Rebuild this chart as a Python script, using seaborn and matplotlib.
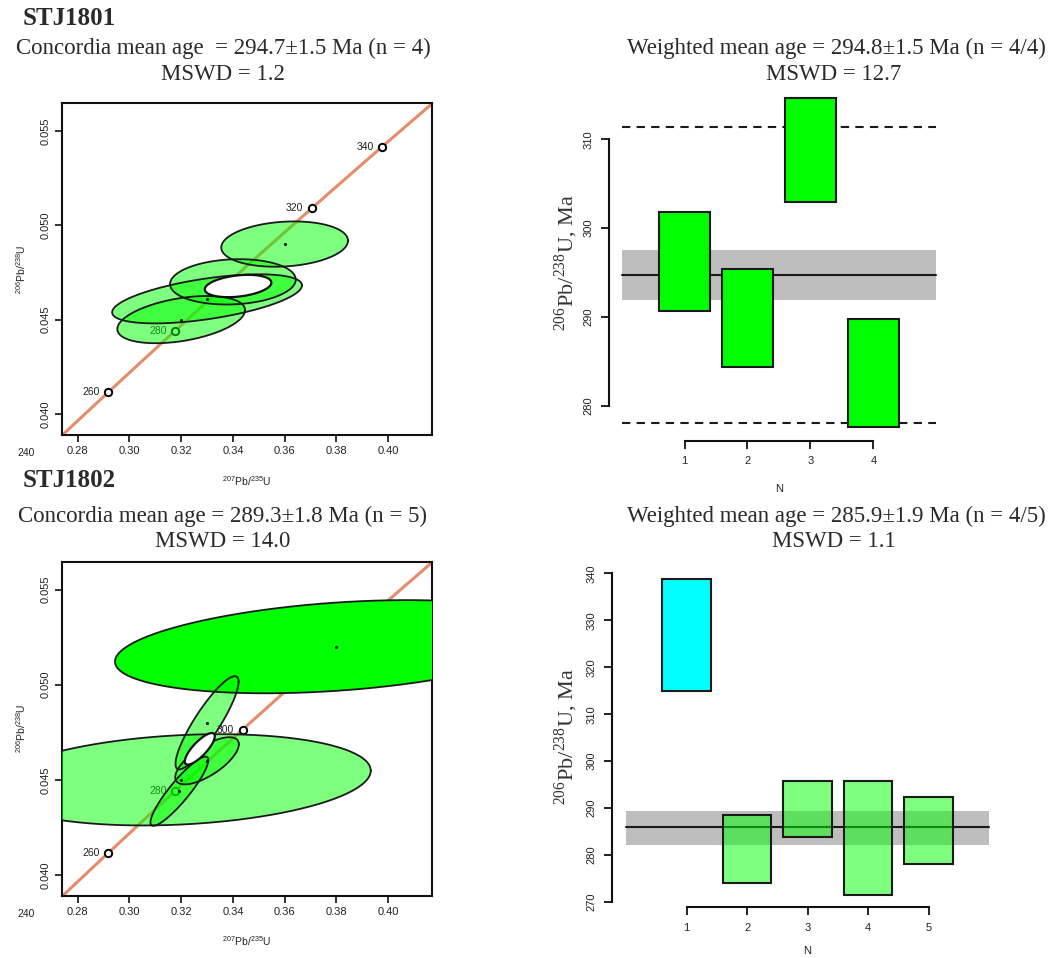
import numpy as np
import pandas as pd
import matplotlib
matplotlib.use("Agg")
import matplotlib.pyplot as plt
import seaborn as sns

sns.set_style("ticks")
plt.rcParams['font.family'] = ['Liberation Sans', 'DejaVu Sans']
plt.rcParams['mathtext.fontset'] = 'custom'
plt.rcParams['mathtext.rm'] = 'Liberation Serif'
plt.rcParams['mathtext.sf'] = 'Liberation Sans'
plt.rcParams['mathtext.it'] = 'Liberation Sans'

# ---------------- data ----------------
L238 = 1.55125e-4   # decay constants, 1/Ma
L235 = 9.8485e-4
conc_ages = [240, 260, 280, 300, 320, 340]
s1_shown_ages = [240, 260, 280, 320, 340]
s2_shown_ages = [240, 260, 280, 300]

# STJ1801 concordia error ellipses (x=207Pb/235U, y=206Pb/238U)
s1_cx = [0.360, 0.340, 0.330, 0.320]
s1_cy = [0.0490, 0.0470, 0.0461, 0.0450]
s1_sx = [0.0245, 0.0243, 0.0367, 0.0247]
s1_sy = [0.00120, 0.00120, 0.00130, 0.00125]
s1_rho = [0.15, 0.10, 0.55, 0.40]
s1_mean = [0.3420, 0.04678, 0.01287, 0.00059, 0.30]

# STJ1802 concordia error ellipses
s2_cx = [0.320, 0.380, 0.330, 0.330, 0.3193]
s2_cy = [0.0450, 0.0520, 0.0480, 0.0460, 0.0444]
s2_sx = [0.0733, 0.0856, 0.0122, 0.0123, 0.0112]
s2_sy = [0.00240, 0.00245, 0.00245, 0.00124, 0.00182]
s2_rho = [0.20, 0.32, 0.88, 0.70, 0.90]
s2_alpha = [0.5, 1.0, 0.5, 0.5, 0.5]
s2_mean = [0.3272, 0.04663, 0.0058, 0.00083, 0.80]

# weighted mean data (206Pb/238U ages, Ma): lower / upper limits
w1_n = [1, 2, 3, 4]
w1_lo = [290.7, 284.4, 302.9, 277.6]
w1_hi = [301.8, 295.4, 314.6, 289.75]
w1_mean, w1_band_lo, w1_band_hi = 294.7, 291.9, 297.6
w1_lim_lo, w1_lim_hi = 278.1, 311.4

w2_n = [1, 2, 3, 4, 5]
w2_lo = [314.9, 274.1, 283.9, 271.6, 278.2]
w2_hi = [338.7, 288.6, 295.8, 295.8, 292.3]
w2_reject = [True, False, False, False, False]
w2_mean, w2_band_lo, w2_band_hi = 285.9, 282.2, 289.4

W, H = 1053, 958
fig = plt.figure(figsize=(W / 100, H / 100), dpi=100)


def axrect(x0, y0, x1, y1):
    return [x0 / W, 1 - y1 / H, (x1 - x0) / W, (y1 - y0) / H]


def ellipse_xy(cx, cy, sx, sy, rho, n=200):
    t = np.linspace(0, 2 * np.pi, n)
    x = cx + sx * np.cos(t)
    y = cy + sy * (rho * np.cos(t) + np.sqrt(1 - rho ** 2) * np.sin(t))
    return x, y


SERIF = ['Liberation Serif', 'DejaVu Serif']
TXT = '#2a2a2a'


def concordia(ax, cx, cy, sx, sy, rho, alphas, mean, shown):
    ages = np.linspace(225, 380, 300)
    cdf = pd.DataFrame({'x': np.exp(L235 * ages) - 1, 'y': np.exp(L238 * ages) - 1})
    sns.lineplot(data=cdf, x='x', y='y', ax=ax, color='#e48c6c', lw=2.2,
                 sort=False, zorder=1)
    sa = np.array(shown)
    mdf = pd.DataFrame({'x': np.exp(L235 * sa) - 1, 'y': np.exp(L238 * sa) - 1})
    sns.scatterplot(data=mdf, x='x', y='y', ax=ax, s=28, marker='o',
                    facecolor='white', edgecolor='black', linewidth=1.4,
                    zorder=2, clip_on=True)
    for a, (xx, yy) in zip(shown, mdf.values):
        ax.annotate(str(a), (xx, yy), xytext=(-6, 0), textcoords='offset points',
                    ha='right', va='center', fontsize=7.5, color='#222222',
                    zorder=2, annotation_clip=False)
    for i in range(len(cx)):
        ex, ey = ellipse_xy(cx[i], cy[i], sx[i], sy[i], rho[i])
        ax.fill(ex, ey, facecolor='#00ff00', alpha=alphas[i], zorder=3, lw=0)
        ax.plot(ex, ey, color='#1a1a1a', lw=1.3, zorder=4)
        ax.plot([cx[i]], [cy[i]], marker='.', ms=2.5, color='#1a1a1a', zorder=4)
    ex, ey = ellipse_xy(*mean)
    ax.fill(ex, ey, facecolor='white', edgecolor='#111111', lw=1.6, zorder=5)
    ax.set_xlim(0.2738, 0.4171)
    ax.set_ylim(0.03889, 0.05647)
    ax.set_xticks([0.28, 0.30, 0.32, 0.34, 0.36, 0.38, 0.40])
    ax.set_xticklabels(['0.28', '0.30', '0.32', '0.34', '0.36', '0.38', '0.40'])
    ax.set_yticks([0.040, 0.045, 0.050, 0.055])
    ax.set_yticklabels(['0.040', '0.045', '0.050', '0.055'], rotation=90, va='center')
    ax.tick_params(labelsize=8, length=5, width=1.3, colors='#222222', pad=3)
    for s in ax.spines.values():
        s.set_linewidth(1.5)
        s.set_color('#111111')
    ax.set_xlabel(r'$^{\mathsf{207}}$Pb/$^{\mathsf{235}}$U', fontsize=7.5, color='#222222')
    ax.set_ylabel(r'$^{\mathsf{206}}$Pb/$^{\mathsf{238}}$U', fontsize=7.5, color='#222222')


def wmean(ax, n, lo, hi, mean, blo, bhi, colors, alphas, lims, ylim, yt):
    N = len(n)
    ax.fill_between([0, N + 1], [blo, blo], [bhi, bhi], color='#bebebe', lw=0, zorder=1)
    ldf = pd.DataFrame({'x': [0, N + 1], 'y': [mean, mean]})
    sns.lineplot(data=ldf, x='x', y='y', ax=ax, color='#1a1a1a', lw=1.5, zorder=2)
    if lims is not None:
        for v in lims:
            ax.plot([0, N + 1], [v, v], color='#1a1a1a', lw=1.5, ls=(0, (4, 3)), zorder=2)
    heights = np.array(hi) - np.array(lo)
    for i in range(N):
        ax.bar(n[i], heights[i], bottom=lo[i], width=0.8, color=colors[i],
               alpha=alphas[i], edgecolor='none', zorder=3)
        ax.bar(n[i], heights[i], bottom=lo[i], width=0.8, fill=False,
               edgecolor='#1a1a1a', lw=1.5, zorder=4)
    ax.set_xlim(-0.04 * (N + 1), (N + 1) * 1.04)
    ax.set_ylim(*ylim)
    ax.set_xticks(n)
    ax.set_xticklabels([str(v) for v in n])
    ax.set_yticks(yt)
    ax.set_yticklabels([str(v) for v in yt], rotation=90, va='center')
    ax.spines['top'].set_visible(False)
    ax.spines['right'].set_visible(False)
    ax.spines['left'].set_bounds(yt[0], yt[-1])
    ax.spines['bottom'].set_bounds(n[0], n[-1])
    for s in ('left', 'bottom'):
        ax.spines[s].set_linewidth(1.5)
        ax.spines[s].set_color('#111111')
    ax.tick_params(labelsize=8, length=6, width=1.4, colors='#222222', pad=5)
    ax.set_xlabel('N', fontsize=8, color='#222222')
    ax.set_ylabel(r'$^{\mathrm{206}}$Pb/$^{\mathrm{238}}$U, Ma', fontsize=16, color='#333333',
                  family=SERIF)


# --- STJ1801 concordia
ax1 = fig.add_axes(axrect(61.7, 103, 432.3, 435))
concordia(ax1, s1_cx, s1_cy, s1_sx, s1_sy, s1_rho, [0.5] * 4, s1_mean, s1_shown_ages)
ax1.xaxis.set_label_coords(0.5, -0.118)
ax1.yaxis.set_label_coords(-0.092, 0.5)

# --- STJ1802 concordia
ax3 = fig.add_axes(axrect(61.7, 561.7, 432.3, 896))
concordia(ax3, s2_cx, s2_cy, s2_sx, s2_sy, s2_rho, s2_alpha, s2_mean, s2_shown_ages)
ax3.xaxis.set_label_coords(0.5, -0.115)
ax3.yaxis.set_label_coords(-0.092, 0.5)

# --- STJ1801 weighted mean
ax2 = fig.add_axes(axrect(609, 85, 948.9, 440.7))
wmean(ax2, w1_n, w1_lo, w1_hi, w1_mean, w1_band_lo, w1_band_hi,
      ['#00ff00'] * 4, [1, 1, 1, 1], (w1_lim_lo, w1_lim_hi), (276.1, 316.1),
      [280, 290, 300, 310])
ax2.xaxis.set_label_coords(0.5, -0.122)
ax2.yaxis.set_label_coords(-0.085, 0.5)

# --- STJ1802 weighted mean
ax4 = fig.add_axes(axrect(611.7, 566.7, 1003.5, 907.3))
cols = ['#00ffff' if r else '#00ff00' for r in w2_reject]
alps = [1.0 if r else 0.5 for r in w2_reject]
wmean(ax4, w2_n, w2_lo, w2_hi, w2_mean, w2_band_lo, w2_band_hi,
      cols, alps, None, (268.9, 341.4), [270, 280, 290, 300, 310, 320, 330, 340])
ax4.xaxis.set_label_coords(0.5, -0.115)
ax4.yaxis.set_label_coords(-0.08, 0.5)

# --- titles
def ftext(x, y, s, **kw):
    fig.text(x / W, 1 - y / H, s, **kw)

ftext(23, 25, 'STJ1801', fontsize=18, fontweight='bold', family=SERIF, color=TXT, va='baseline')
ftext(223, 54, 'Concordia mean age  = 294.7\u00b11.5 Ma (n = 4)', fontsize=16.5,
      family=SERIF, color=TXT, ha='center', va='baseline')
ftext(223, 80, 'MSWD = 1.2', fontsize=16.5, family=SERIF, color=TXT, ha='center', va='baseline')
ftext(836, 54, 'Weighted mean age = 294.8\u00b11.5 Ma (n = 4/4)', fontsize=16.5,
      family=SERIF, color=TXT, ha='center', va='baseline')
ftext(834, 80, 'MSWD = 12.7', fontsize=16.5, family=SERIF, color=TXT, ha='center', va='baseline')

ftext(23, 487, 'STJ1802', fontsize=18, fontweight='bold', family=SERIF, color=TXT, va='baseline')
ftext(223, 522, 'Concordia mean age = 289.3\u00b11.8 Ma (n = 5)', fontsize=16.5,
      family=SERIF, color=TXT, ha='center', va='baseline')
ftext(223, 547, 'MSWD = 14.0', fontsize=16.5, family=SERIF, color=TXT, ha='center', va='baseline')
ftext(836, 522, 'Weighted mean age = 285.9\u00b11.9 Ma (n = 4/5)', fontsize=16.5,
      family=SERIF, color=TXT, ha='center', va='baseline')
ftext(834, 547, 'MSWD = 1.1', fontsize=16.5, family=SERIF, color=TXT, ha='center', va='baseline')

fig.savefig('out.png', dpi=100, facecolor='white')
